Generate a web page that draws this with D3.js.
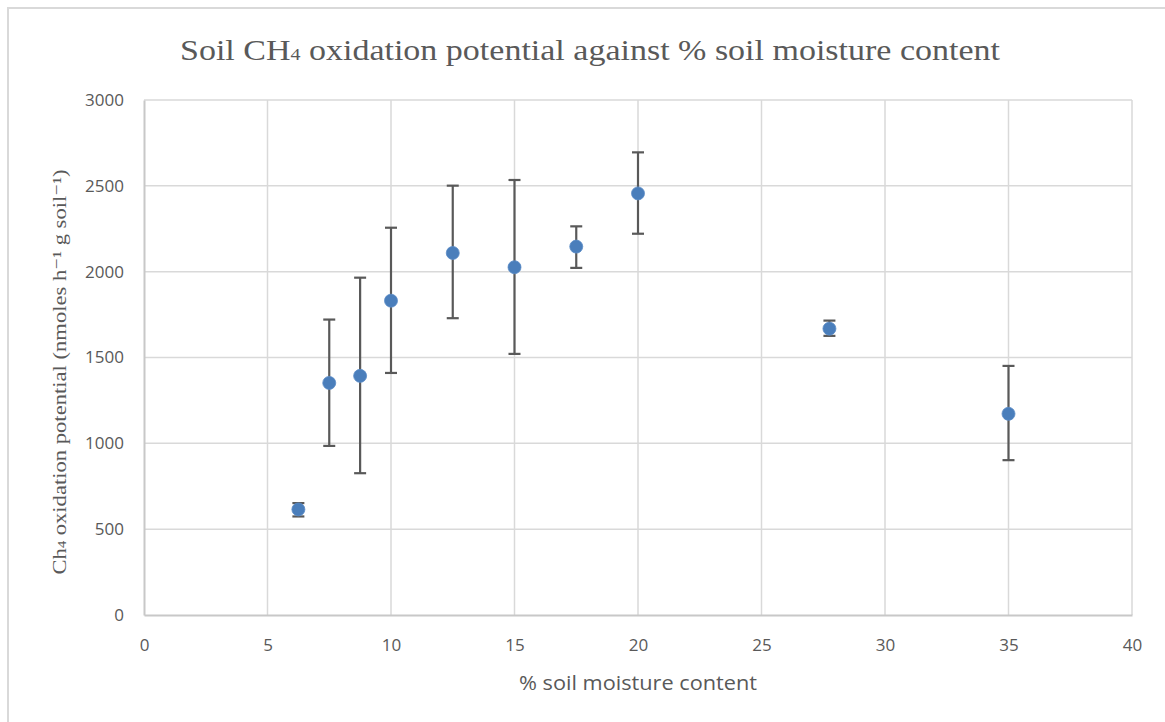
<!DOCTYPE html>
<html>
<head>
<meta charset="utf-8">
<script src="https://cdn.jsdelivr.net/npm/d3@7"></script>
<style>
  html, body { margin: 0; padding: 0; background: #fff; }
  svg { display: block; }
</style>
</head>
<body>
<svg id="chart" width="1165" height="722"></svg>
<script>
// ---- data ----
const moisture = [6.25, 7.5, 8.75, 10, 12.5, 15, 17.5, 20, 27.75, 35];
const oxidation = [615, 1352, 1393, 1831, 2109, 2026, 2146, 2456, 1668, 1172];
const errPlus  = [37, 369, 572, 425, 392, 508, 118, 239, 47, 279];
const errMinus = [41, 367, 567, 421, 380, 505, 124, 235, 42, 270];
const xTicks = [0, 5, 10, 15, 20, 25, 30, 35, 40];
const yTicks = [0, 500, 1000, 1500, 2000, 2500, 3000];

const svg = d3.select("#chart");
const W = 1165, H = 722;
const plot = { left: 144, right: 1132, top: 100, bottom: 615 };

// outer frame
svg.append("rect")
  .attr("x", 8).attr("y", 8).attr("width", W + 20).attr("height", H + 20)
  .attr("fill", "#fff").attr("stroke", "#d9d9d9").attr("stroke-width", 2);

const x = d3.scaleLinear().domain([0, 40]).range([plot.left, plot.right]);
const y = d3.scaleLinear().domain([0, 3000]).range([plot.bottom, plot.top]);

// gridlines
const grid = svg.append("g");
grid.selectAll("line.h").data(yTicks.filter(d => d > 0)).enter().append("line")
  .attr("x1", plot.left).attr("x2", plot.right)
  .attr("y1", d => y(d)).attr("y2", d => y(d))
  .attr("stroke", "#d9d9d9").attr("stroke-width", 1.5);
grid.selectAll("line.v").data(xTicks.filter(d => d > 0)).enter().append("line")
  .attr("x1", d => x(d)).attr("x2", d => x(d))
  .attr("y1", plot.top).attr("y2", plot.bottom)
  .attr("stroke", "#d9d9d9").attr("stroke-width", 1.5);

// axes
const xAxis = d3.axisBottom(x).tickValues(xTicks).tickSize(0).tickPadding(24).tickFormat(d3.format("d"));
const yAxis = d3.axisLeft(y).tickValues(yTicks).tickSize(0).tickPadding(20).tickFormat(d3.format("d"));

const gx = svg.append("g").attr("transform", `translate(0,${plot.bottom})`).call(xAxis);
const gy = svg.append("g").attr("transform", `translate(${plot.left},0)`).call(yAxis);
[gx, gy].forEach(g => {
  g.select(".domain").attr("stroke", "#c8c8c8").attr("stroke-width", 2);
  g.selectAll("text").attr("fill", "#595959")
    .style("font-family", "'Open Sans', sans-serif")
    .style("font-size", "17px");
});

// error bars
const eb = svg.append("g").attr("stroke", "#595959").attr("stroke-width", 2.2);
moisture.forEach((m, i) => {
  const cx = x(m);
  const yt = y(oxidation[i] + errPlus[i]);
  const yb = y(oxidation[i] - errMinus[i]);
  eb.append("line").attr("x1", cx).attr("x2", cx).attr("y1", yt).attr("y2", yb);
  eb.append("line").attr("x1", cx - 6).attr("x2", cx + 6).attr("y1", yt).attr("y2", yt);
  eb.append("line").attr("x1", cx - 6).attr("x2", cx + 6).attr("y1", yb).attr("y2", yb);
});

// points
svg.append("g").selectAll("circle").data(moisture).enter().append("circle")
  .attr("cx", d => x(d))
  .attr("cy", (d, i) => y(oxidation[i]))
  .attr("r", 6.5)
  .attr("fill", "#4a7ebb")
  .attr("stroke", "#5b8bc6").attr("stroke-width", 0.8);

// title
const title = svg.append("text")
  .attr("x", 590).attr("y", 60)
  .attr("text-anchor", "middle")
  .attr("fill", "#595959")
  .style("font-family", "'Liberation Serif', 'DejaVu Serif', serif")
  .style("font-size", "29px")
  .attr("textLength", 820).attr("lengthAdjust", "spacingAndGlyphs");
title.append("tspan").text("Soil CH");
title.append("tspan").text("4").style("font-size", "17px");
title.append("tspan").text(" oxidation potential against % soil moisture content");

// y label
const ylab = svg.append("text")
  .attr("transform", `translate(66,372) rotate(-90)`)
  .attr("text-anchor", "middle")
  .attr("fill", "#595959")
  .style("font-family", "'Liberation Serif', 'DejaVu Serif', serif")
  .style("font-size", "19px")
  .attr("textLength", 405).attr("lengthAdjust", "spacingAndGlyphs");
ylab.append("tspan").text("Ch");
ylab.append("tspan").text("4").style("font-size", "12px");
ylab.append("tspan").text(" oxidation potential (nmoles h\u207B\u00B9 g soil\u207B\u00B9)");

// x label
svg.append("text")
  .attr("x", 638).attr("y", 690)
  .attr("text-anchor", "middle")
  .attr("fill", "#595959")
  .style("font-family", "'Open Sans', sans-serif")
  .style("font-size", "20px")
  .attr("textLength", 238).attr("lengthAdjust", "spacingAndGlyphs")
  .text("% soil moisture content");
</script>
</body>
</html>
